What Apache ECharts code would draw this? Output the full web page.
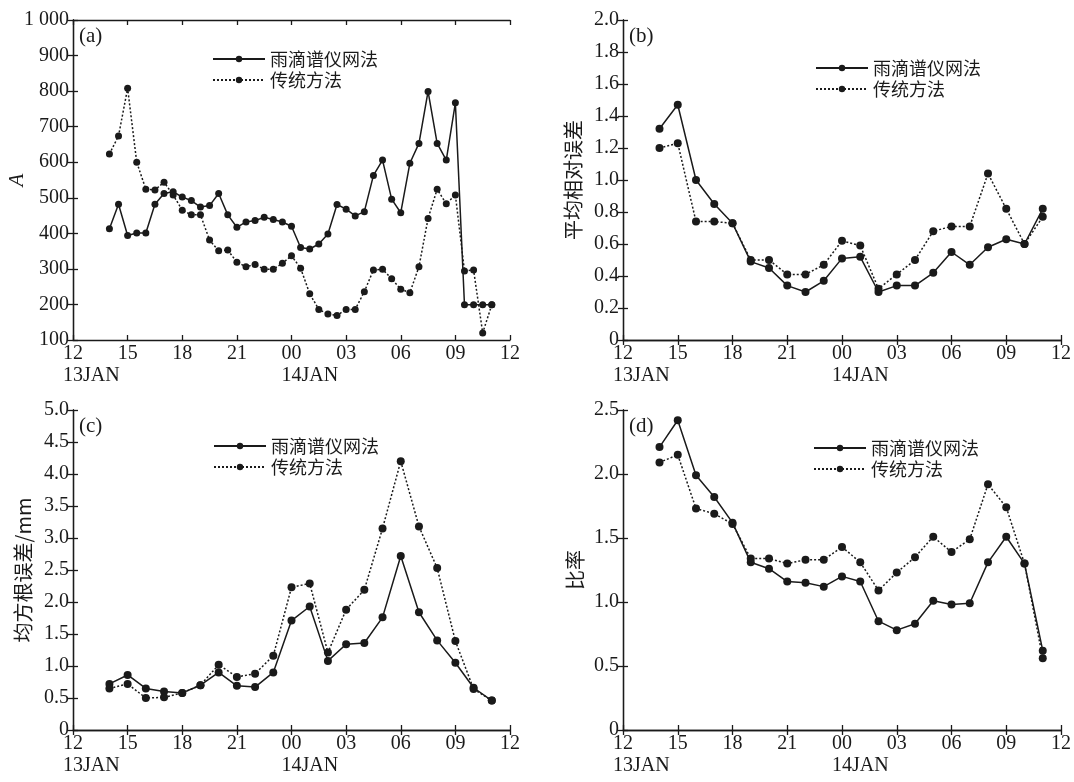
<!DOCTYPE html>
<html>
<head>
<meta charset="utf-8">
<script src="https://cdn.jsdelivr.net/npm/echarts@6.0.0/dist/echarts.min.js"></script>
<style>
  html, body { margin: 0; padding: 0; background: #fff; }
  #chart { width: 1074px; height: 782px; }
</style>
</head>
<body>
<div id="chart"></div>
<script>
// 时间（13JAN 12:00 起）
const timesHalf = ['14:00', '14:30', '15:00', '15:30', '16:00', '16:30', '17:00', '17:30', '18:00', '18:30',
    '19:00', '19:30', '20:00', '20:30', '21:00', '21:30', '22:00', '22:30', '23:00', '23:30',
    '00:00', '00:30', '01:00', '01:30', '02:00', '02:30', '03:00', '03:30', '04:00', '04:30',
    '05:00', '05:30', '06:00', '06:30', '07:00', '07:30', '08:00', '08:30', '09:00', '09:30',
    '10:00', '10:30', '11:00']
const timesHour = ['14:00', '15:00', '16:00', '17:00', '18:00', '19:00', '20:00', '21:00', '22:00', '23:00',
    '00:00', '01:00', '02:00', '03:00', '04:00', '05:00', '06:00', '07:00', '08:00', '09:00',
    '10:00', '11:00']
const xTickLabels = ['12', '15', '18', '21', '00', '03', '06', '09', '12']
const dayLabels = ['13JAN', '14JAN']
const seriesNames = ['雨滴谱仪网法', '传统方法']
const panelLabels = ['(a)', '(b)', '(c)', '(d)']
const yNames = ['A', '平均相对误差', '均方根误差/mm', '比率']

// (a) A
const aRain = [413, 482, 394, 401, 401, 482, 512, 517, 502, 492, 474, 478, 512, 452, 417, 432, 436, 445, 439, 432,
    420, 360, 356, 370, 398, 481, 468, 449, 461, 563, 606, 496, 458, 597, 653, 799, 653, 606, 767, 199,
    199, 199, 199]
const aTrad = [623, 674, 808, 600, 524, 522, 544, 508, 465, 452, 452, 381, 351, 353, 319, 306, 312, 299, 299, 316,
    337, 302, 230, 186, 173, 169, 186, 186, 236, 297, 299, 272, 243, 233, 306, 442, 524, 483, 508, 294,
    297, 120, 199]
// (b) 平均相对误差
const bRain = [1.32, 1.47, 1.00, 0.85, 0.73, 0.49, 0.45, 0.34, 0.30, 0.37, 0.51, 0.52, 0.30, 0.34, 0.34, 0.42, 0.55, 0.47, 0.58, 0.63, 0.60, 0.82]
const bTrad = [1.20, 1.23, 0.74, 0.74, 0.73, 0.50, 0.50, 0.41, 0.41, 0.47, 0.62, 0.59, 0.32, 0.41, 0.50, 0.68, 0.71, 0.71, 1.04, 0.82, 0.60, 0.77]
// (c) 均方根误差
const cRain = [0.72, 0.86, 0.65, 0.60, 0.58, 0.70, 0.90, 0.69, 0.67, 0.90, 1.71, 1.93, 1.08, 1.34, 1.36, 1.76, 2.72, 1.84, 1.40, 1.05, 0.66, 0.46]
const cTrad = [0.65, 0.72, 0.50, 0.51, 0.58, 0.70, 1.02, 0.83, 0.88, 1.16, 2.23, 2.29, 1.21, 1.88, 2.19, 3.15, 4.20, 3.18, 2.53, 1.39, 0.64, 0.46]
// (d) 比率
const dRain = [2.21, 2.42, 1.99, 1.82, 1.62, 1.31, 1.26, 1.16, 1.15, 1.12, 1.20, 1.16, 0.85, 0.78, 0.83, 1.01, 0.98, 0.99, 1.31, 1.51, 1.30, 0.62]
const dTrad = [2.09, 2.15, 1.73, 1.69, 1.61, 1.34, 1.34, 1.30, 1.33, 1.33, 1.43, 1.31, 1.09, 1.23, 1.35, 1.51, 1.39, 1.49, 1.92, 1.74, 1.30, 0.56]

const serif = '"Liberation Serif", "Times New Roman", serif'
const cjk = '"Noto Sans CJK SC", "Liberation Serif", sans-serif'
const ink = '#1a1a1a'

// 相对 13JAN 12:00 的小时数
function toHour (t) {
    const [h, m] = t.split(':').map(Number)
    return ((h - 12 + 24) % 24) + m / 60
}
function pairs (times, vals) {
    return vals.map((v, i) => [toHour(times[i]), v])
}

const panels = [
    { grid: { left: 73, top: 20, right: 564, bottom: 442 }, min: 100, max: 1000, interval: 100,
      fmt: v => v === 1000 ? '1 000' : String(v), times: timesHalf, rain: aRain, trad: aTrad,
      nameGap: 45, italic: true, legend: { left: 212, top: 50 }, size: 7 },
    { grid: { left: 623, top: 20, right: 13, bottom: 442 }, min: 0, max: 2, interval: 0.2,
      fmt: v => v === 0 ? '0' : v.toFixed(1), times: timesHour, rain: bRain, trad: bTrad,
      nameGap: 40, italic: false, legend: { left: 815, top: 59 }, size: 8 },
    { grid: { left: 73, top: 410, right: 564, bottom: 52 }, min: 0, max: 5, interval: 0.5,
      fmt: v => v === 0 ? '0' : v.toFixed(1), times: timesHour, rain: cRain, trad: cTrad,
      nameGap: 40, italic: false, legend: { left: 213, top: 437 }, size: 8 },
    { grid: { left: 623, top: 410, right: 13, bottom: 52 }, min: 0, max: 2.5, interval: 0.5,
      fmt: v => v === 0 ? '0' : v.toFixed(1), times: timesHour, rain: dRain, trad: dTrad,
      nameGap: 38, italic: false, legend: { left: 813, top: 439 }, size: 8 }
]

const axisLine = { show: true, lineStyle: { color: ink, width: 1.3 } }
const axisTick = { show: true, inside: true, length: 5, lineStyle: { color: ink, width: 1.3 } }

const grid = []
const xAxis = []
const yAxis = []
const series = []
const legend = []

panels.forEach((p, i) => {
    grid.push(p.grid)
    // 底部与顶部 x 轴
    xAxis.push({
        type: 'value', gridIndex: i, min: 0, max: 24, interval: 3, position: 'bottom',
        axisLine, axisTick, splitLine: { show: false },
        axisLabel: {
            color: ink, fontFamily: serif, fontSize: 20, margin: 4,
            formatter: v => xTickLabels[Math.round(v / 3)]
        }
    })
    xAxis.push({
        type: 'value', gridIndex: i, min: 0, max: 24, interval: 3, position: 'top',
        axisLine, axisTick, splitLine: { show: false }, axisLabel: { show: false }
    })
    // 左侧与右侧 y 轴
    yAxis.push({
        type: 'value', gridIndex: i, min: p.min, max: p.max, interval: p.interval, position: 'left',
        axisLine, axisTick, splitLine: { show: false },
        axisLabel: { color: ink, fontFamily: serif, fontSize: 20, margin: 4, formatter: p.fmt },
        name: yNames[i], nameLocation: 'middle', nameGap: p.nameGap, nameRotate: 90,
        nameMoveOverlap: false,
        nameTextStyle: {
            color: ink, fontSize: p.italic ? 21 : 20, fontStyle: p.italic ? 'italic' : 'normal',
            fontFamily: p.italic ? serif : cjk
        }
    })
    yAxis.push({
        type: 'value', gridIndex: i, min: p.min, max: p.max, interval: p.interval, position: 'right',
        axisLine, axisTick, splitLine: { show: false }, axisLabel: { show: false }
    })
    series.push({
        name: seriesNames[0], type: 'line', xAxisIndex: i * 2, yAxisIndex: i * 2,
        data: pairs(p.times, p.rain), symbol: 'circle', symbolSize: p.size,
        lineStyle: { color: ink, width: 1.5, type: 'solid' },
        itemStyle: { color: ink }, animation: false
    })
    series.push({
        name: seriesNames[1], type: 'line', xAxisIndex: i * 2, yAxisIndex: i * 2,
        data: pairs(p.times, p.trad), symbol: 'circle', symbolSize: p.size,
        lineStyle: { color: ink, width: 1.5, type: [2, 2] },
        itemStyle: { color: ink }, animation: false
    })
    legend.push({
        left: p.legend.left, top: p.legend.top, orient: 'vertical', padding: 0,
        itemWidth: 52, itemHeight: 8, itemGap: 3, data: seriesNames, selectedMode: false,
        textStyle: { color: ink, fontSize: 18, fontFamily: cjk }
    })
})

const chart = echarts.init(document.getElementById('chart'))
chart.setOption({
    backgroundColor: '#fff',
    animation: false,
    grid, xAxis, yAxis, series, legend
})

// 面板编号与日期标注
const graphic = []
panels.forEach((p, i) => {
    graphic.push({
        type: 'text', left: p.grid.left + 6, top: p.grid.top + 6,
        style: { text: panelLabels[i], font: '21px ' + serif, fill: ink }
    });
    [0, 12].forEach((h, k) => {
        const px = chart.convertToPixel({ xAxisIndex: i * 2 }, h)
        graphic.push({
            type: 'text', left: px - 10, top: (782 - p.grid.bottom) + 26,
            style: { text: dayLabels[k], font: '20px ' + serif, fill: ink }
        })
    })
})
chart.setOption({ graphic })
</script>
</body>
</html>
